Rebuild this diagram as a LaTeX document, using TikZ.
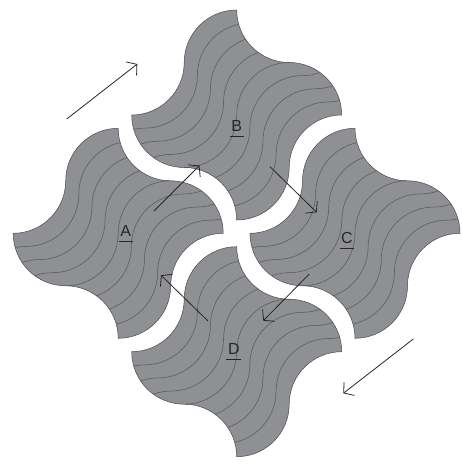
\documentclass[tikz,border=0pt]{standalone}
\usepackage{fontspec}
\setmainfont{Liberation Sans}
\usetikzlibrary{arrows.meta}
\definecolor{tilegray}{RGB}{143,144,148}
\definecolor{stripegray}{RGB}{92,93,97}
\definecolor{inkgray}{RGB}{38,38,38}
\tikzset{
  tileshape/.style={insert path={(-105,0)
    arc[start angle=-90,end angle=0,radius=52.5pt] arc[start angle=180,end angle=90,radius=52.5pt]
    arc[start angle=180,end angle=270,radius=52.5pt] arc[start angle=90,end angle=0,radius=52.5pt]
    arc[start angle=90,end angle=180,radius=52.5pt] arc[start angle=0,end angle=-90,radius=52.5pt]
    arc[start angle=0,end angle=90,radius=52.5pt] arc[start angle=-90,end angle=-180,radius=52.5pt] -- cycle}},
  wave/.style={insert path={arc[start angle=-90,end angle=0,radius=52.5pt] arc[start angle=180,end angle=90,radius=52.5pt]}},
  stripe/.style={draw=stripegray,line width=0.6pt},
  paver/.pic={
    \fill[tilegray] [tileshape];
    \begin{scope}
      \clip [tileshape];
      \foreach \k in {1,...,7}
        \draw[stripe] (-210+\k*13.125,-105-\k*13.125) [wave] [wave] [wave];
    \end{scope}
    \draw[draw=stripegray!80!black,line width=0.5pt] [tileshape];
  },
  lbl/.style={text=inkgray,font=\fontsize{16}{19}\selectfont,inner sep=1.4pt,anchor=base},
  uline/.style={draw=inkgray,line width=0.9pt},
  flow/.style={draw=inkgray,line width=0.8pt,-{Straight Barb[length=7pt,width=17pt]}}
}

\begin{document}
\begin{tikzpicture}[x=1pt,y=1pt]
\useasboundingbox (0,0) rectangle (462,-464);
\pic at (118.2,-233.3) {paver};
\pic at (236.7,-115) {paver};
\pic at (355,-233.3) {paver};
\pic at (236.7,-351.7) {paver};
\node[lbl] (labA) at (125.7,-236) {A};
\node[lbl] (labB) at (236.7,-131) {B};
\node[lbl] (labC) at (347,-243) {C};
\node[lbl] (labD) at (233.8,-354) {D};
\foreach \n in {labA,labB,labC,labD}
  \draw[uline] ([yshift=-5.7pt]\n.base west) -- ([yshift=-5.7pt]\n.base east);
\coordinate (topS) at (66.7,-119); \coordinate (topE) at (137.3,-64);
\coordinate (abS) at (154,-211); \coordinate (abE) at (199.5,-165.5);
\coordinate (bcS) at (270,-166.7); \coordinate (bcE) at (316.7,-212.3);
\coordinate (cdS) at (309.3,-274); \coordinate (cdE) at (263.3,-320.7);
\coordinate (daS) at (208,-321); \coordinate (daE) at (161,-275.2);
\coordinate (botS) at (413.3,-339); \coordinate (botE) at (343.3,-393.3);
\draw[flow] (topS) -- (topE);
\draw[flow] (abS) -- (abE);
\draw[flow] (bcS) -- (bcE);
\draw[flow] (cdS) -- (cdE);
\draw[flow] (daS) -- (daE);
\draw[flow] (botS) -- (botE);
\end{tikzpicture}
\end{document}
